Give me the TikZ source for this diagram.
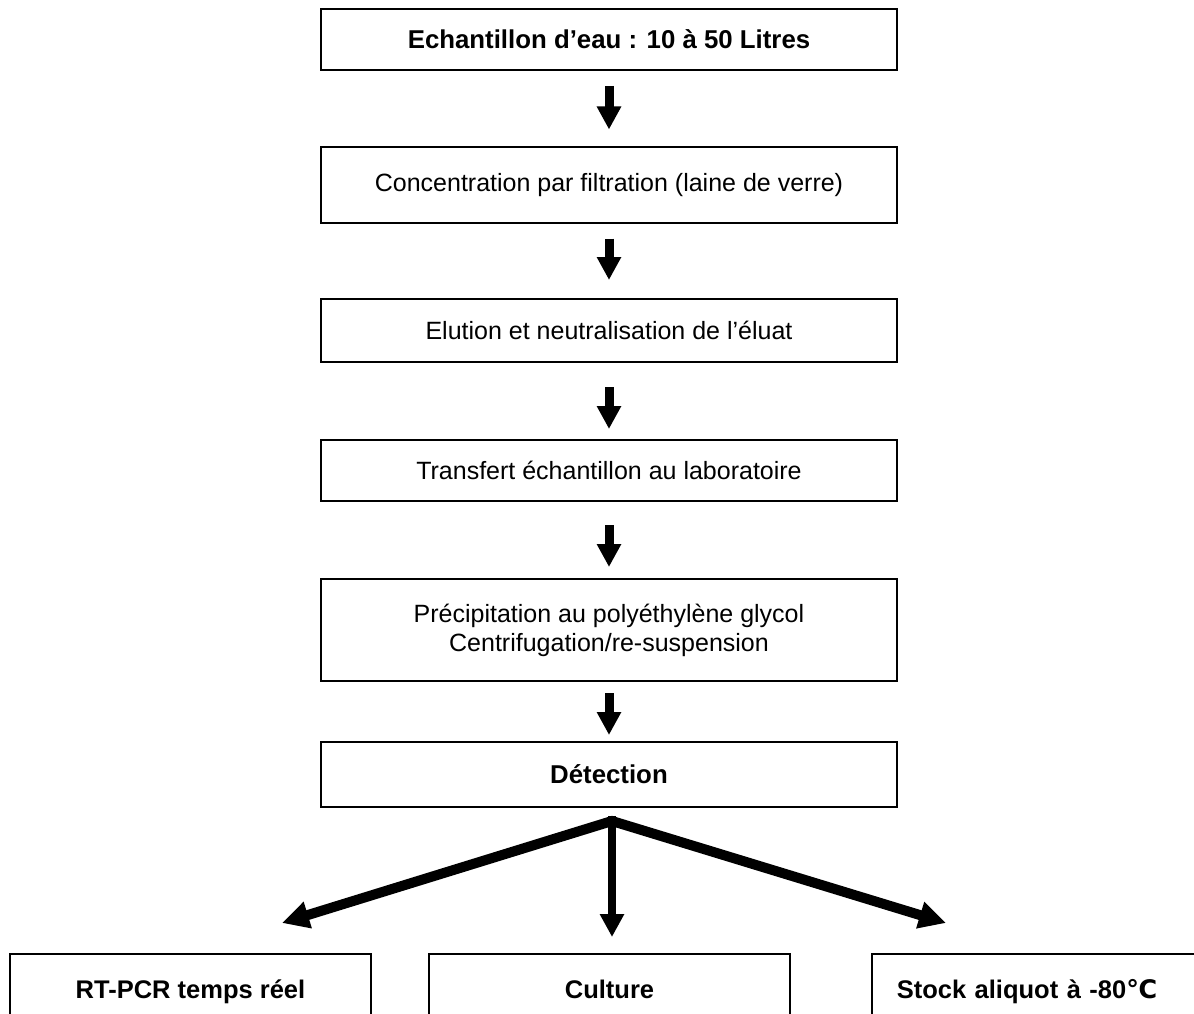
\documentclass[tikz,border=0pt]{standalone}
\usepackage{fontspec}
\setmainfont{Liberation Sans}
\newfontfamily\dejavu{DejaVu Sans}
\usetikzlibrary{arrows.meta}
\begin{document}
\begin{tikzpicture}[x=1pt,y=-1pt,
  box/.style={draw, line width=2pt, minimum width=576pt, inner sep=0pt, align=center, font=\fontsize{25}{29}\selectfont},
  bbox/.style={draw, line width=2pt, minimum width=361pt, minimum height=75pt, inner sep=0pt, text height=18pt, text depth=5pt, font=\fontsize{25.5}{29}\selectfont\bfseries},
  varr/.style={line width=9pt, -{Triangle[width=23pt,length=23pt]}},
  carr/.style={line width=8pt, -{Triangle[width=23pt,length=23pt]}},
  darr/.style={line width=10pt, line join=miter, {Triangle[width=26pt,length=27pt]}-{Triangle[width=26pt,length=27pt]}}
]
\useasboundingbox (0,0) rectangle (1194,1014);
\fill[white] (0,0) rectangle (1194,1014);

\node[box, minimum height=61pt] (b1) at (609,39.5) {\fontsize{25.8}{29}\selectfont\bfseries Echantillon d’eau : 10 à 50 Litres};
\node[box, minimum height=75pt] (b2) at (609,185) {Concentration par filtration (laine de verre)};
\node[box, minimum height=63pt] (b3) at (609,330.5) {Elution et neutralisation de l’éluat};
\node[box, minimum height=61pt] (b4) at (609,470.5) {Transfert échantillon au laboratoire};
\node[box, minimum height=102pt] (b5) at (609,630) {Précipitation au polyéthylène glycol\\Centrifugation/re-suspension};
\node[box, minimum height=65pt] (b6) at (609,774.5) {\fontsize{25.8}{29}\selectfont\bfseries Détection};

\node[bbox] (l) at (190.5,991.5) {RT-PCR temps réel};
\node[bbox] (m) at (609.5,991.5) {Culture};
\node[bbox, minimum width=362pt, text width=336pt, align=center] (r) at (1053,991.5) {\hspace*{-52pt}Stock aliquot à -80{\dejavu\bfseries ℃}};

\draw[varr] ([yshift=-15pt]b1.south) -- ([yshift=17pt]b2.north);
\draw[varr] ([yshift=-15pt]b2.south) -- ([yshift=18pt]b3.north);
\draw[varr] ([yshift=-24pt]b3.south) -- ([yshift=10pt]b4.north);
\draw[varr] ([yshift=-23pt]b4.south) -- ([yshift=11pt]b5.north);
\draw[varr] ([yshift=-11pt]b5.south) -- ([yshift=6pt]b6.north);

\coordinate (ap) at ([xshift=3pt,yshift=-13pt]b6.south);
\coordinate (ctop) at ([xshift=3pt,yshift=-8pt]b6.south);
\coordinate (lt) at (282,923);
\coordinate (rt) at (946,923);
\coordinate (mt) at ([xshift=2.5pt,yshift=16pt]m.north);

\draw[darr] (lt) -- (ap) -- (rt);
\draw[carr] (ctop) -- (mt);
\end{tikzpicture}
\end{document}
